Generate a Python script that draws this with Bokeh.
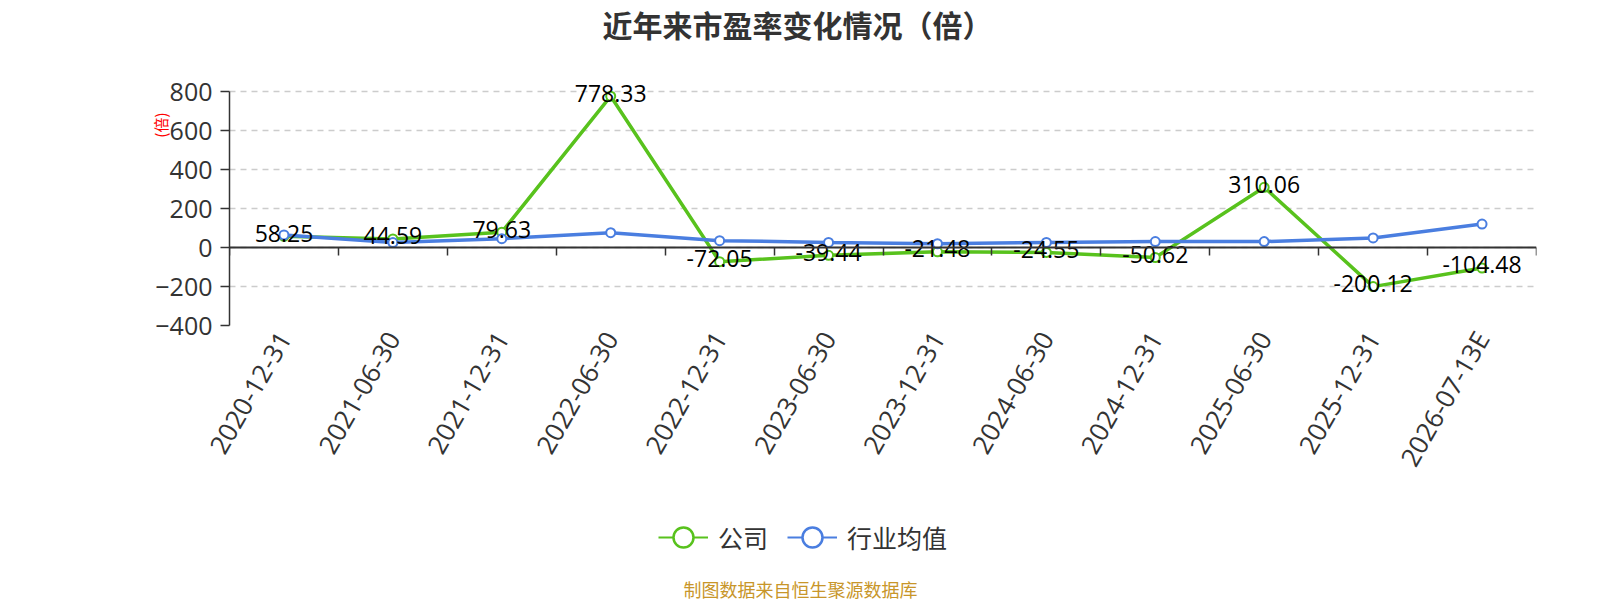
import math
from bokeh.plotting import figure
from bokeh.layouts import column
from bokeh.models import (ColumnDataSource, FixedTicker, LinearAxis, Legend, LegendItem, Title, Label, Range1d)
from bokeh.core.properties import value
from bokeh.embed import file_html
from bokeh.resources import INLINE

categories = ["2020-12-31", "2021-06-30", "2021-12-31", "2022-06-30", "2022-12-31", "2023-06-30",
              "2023-12-31", "2024-06-30", "2024-12-31", "2025-06-30", "2025-12-31", "2026-07-13E"]
company = [58.25, 44.59, 79.63, 778.33, -72.05, -39.44, -21.48, -24.55, -50.62, 310.06, -200.12, -104.48]
industry = [65, 26, 46, 77, 36, 27, 20, 27, 31, 31, 50, 121]
y_ticks = [-400, -200, 0, 200, 400, 600, 800]

title_text = "近年来市盈率变化情况（倍）"
unit_text = "(倍)"
footer_text = "制图数据来自恒生聚源数据库"
series_names = ["公司", "行业均值"]

CJK = "Noto Sans CJK SC"
NUM = "Open Sans"
GREEN = "#58c21d"
BLUE = "#4a7ee0"
W = 1600
FRAME_LEFT = 229   # frames of the stacked figures are aligned by the column layout


def blank(height):
    f = figure(width=W, height=height, x_range=Range1d(0, 1), y_range=Range1d(0, 1),
               x_axis_type=None, y_axis_type=None, output_backend="svg", toolbar_location=None,
               min_border=0)
    f.title = None
    f.outline_line_color = None
    f.xgrid.visible = False
    f.ygrid.visible = False
    f.background_fill_color = "white"
    f.border_fill_color = "white"
    return f


# ---------- title strip ----------
top = blank(72)
top.add_layout(Label(x=797 - FRAME_LEFT, y=49, x_units="screen", y_units="screen", text=title_text,
                     text_align="center", text_baseline="middle", text_font=CJK,
                     text_font_size="30px", text_font_style="bold", text_color="#333333"))

# ---------- main chart ----------
xs = list(range(len(categories)))
src = ColumnDataSource(dict(
    x=xs, company=company, industry=industry,
    clabel=[f"{v:.2f}" for v in company],
))

# headroom above the top tick so the top data label is not clipped
p = figure(width=W, height=418, x_range=(-0.5, len(categories) - 0.5), y_range=(y_ticks[0], 900),
           output_backend="svg", toolbar_location=None,
           min_border_left=FRAME_LEFT, min_border_top=0, min_border_right=64, min_border_bottom=165)
p.title = None
p.outline_line_color = None
p.background_fill_color = "white"
p.border_fill_color = "white"

xa = p.xaxis[0]
xa.ticker = FixedTicker(ticks=xs)
xa.major_label_overrides = {i: c for i, c in enumerate(categories)}
xa.major_label_orientation = math.pi / 3
xa.axis_line_color = None
xa.major_tick_line_color = None
xa.major_tick_out = 0
xa.minor_tick_line_color = None
xa.major_label_text_font = NUM
xa.major_label_text_font_size = "26px"
xa.major_label_text_color = "#333333"
xa.major_label_standoff = 8

ya = p.yaxis[0]
ya.ticker = FixedTicker(ticks=y_ticks)
ya.bounds = (y_ticks[0], y_ticks[-1])
ya.axis_line_color = "#333333"
ya.axis_line_width = 1.5
ya.major_tick_line_color = "#333333"
ya.major_tick_line_width = 1.5
ya.major_tick_out = 9
ya.major_tick_in = 0
ya.minor_tick_line_color = None
ya.major_label_text_font = NUM
ya.major_label_text_font_size = "25px"
ya.major_label_text_color = "#333333"
ya.major_label_standoff = 8

p.xgrid.grid_line_color = None
p.ygrid.ticker = FixedTicker(ticks=y_ticks)
p.ygrid.grid_line_color = "#cccccc"
p.ygrid.grid_line_width = 1.5
p.ygrid.grid_line_dash = "6 5"

zero_axis = LinearAxis(fixed_location=0,
                       ticker=FixedTicker(ticks=[i - 0.5 for i in range(len(categories) + 1)]))
zero_axis.axis_line_color = "#333333"
zero_axis.axis_line_width = 2
zero_axis.major_tick_line_color = "#333333"
zero_axis.major_tick_line_width = 1.5
zero_axis.major_tick_out = 8
zero_axis.major_tick_in = 0
zero_axis.minor_tick_line_color = None
zero_axis.major_label_text_font_size = "0px"
zero_axis.major_label_text_alpha = 0
p.add_layout(zero_axis, "below")

unit = Title(text=unit_text, align="right", offset=40, standoff=-37,
             text_font=CJK, text_font_size="15px", text_font_style="normal", text_color="#ff0000")
p.add_layout(unit, "left")

l1 = p.line("x", "company", source=src, line_color=GREEN, line_width=3.5)
s1 = p.scatter("x", "company", source=src, size=9, fill_color="white", line_color=GREEN, line_width=2)
l2 = p.line("x", "industry", source=src, line_color=BLUE, line_width=3.5)
s2 = p.scatter("x", "industry", source=src, size=9, fill_color="white", line_color=BLUE, line_width=2)

p.text("x", "company", text="clabel", source=src, text_align="center", text_baseline="middle",
       y_offset=-3, text_font=value(NUM), text_font_size="23px", text_color="#000000")

# ---------- legend + footer strip ----------
bot = blank(110)
placeholder = ColumnDataSource(dict(x=[float("nan")], y=[float("nan")]))
bl1 = bot.line("x", "y", source=placeholder, line_color=GREEN, line_width=2)
bs1 = bot.scatter("x", "y", source=placeholder, fill_color="white", line_color=GREEN, line_width=2.5)
bl2 = bot.line("x", "y", source=placeholder, line_color=BLUE, line_width=2)
bs2 = bot.scatter("x", "y", source=placeholder, fill_color="white", line_color=BLUE, line_width=2.5)
legend = Legend(items=[LegendItem(label=series_names[0], renderers=[bl1, bs1]),
                       LegendItem(label=series_names[1], renderers=[bl2, bs2])],
                orientation="horizontal", location=(658 - FRAME_LEFT, 38),
                glyph_width=50, glyph_height=50, label_standoff=10, spacing=19,
                padding=0, margin=0, border_line_color=None, background_fill_alpha=0,
                label_text_font=CJK, label_text_font_size="25px", label_text_color="#333333")
bot.add_layout(legend, "center")
bot.add_layout(Label(x=800 - FRAME_LEFT, y=12, x_units="screen", y_units="screen", text=footer_text,
                     text_align="center", text_baseline="middle", text_font=CJK,
                     text_font_size="18px", text_color="#c8962a"))

layout = column(top, p, bot, spacing=0)
open("out.html", "w").write(file_html(layout, INLINE))
